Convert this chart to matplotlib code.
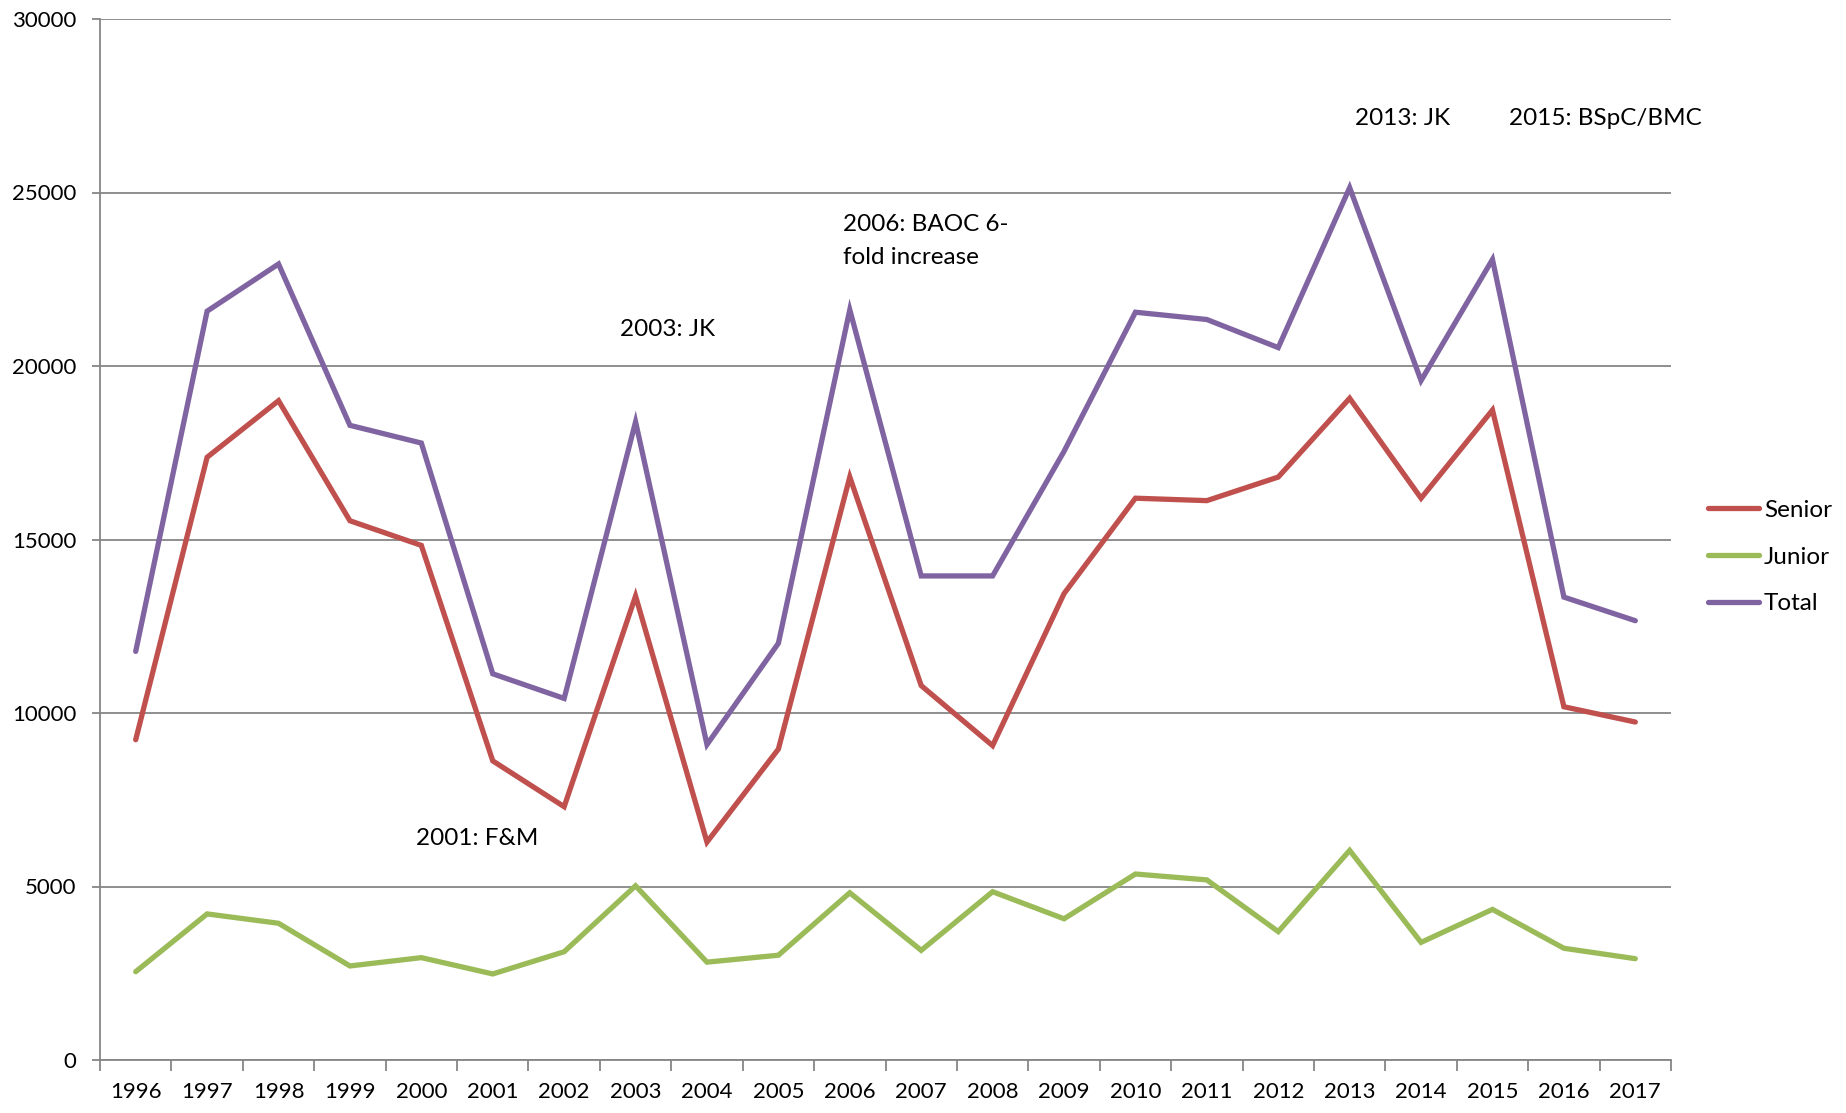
import matplotlib
matplotlib.use("Agg")
import matplotlib.pyplot as plt
import numpy as np

plt.rcParams["font.family"] = ["Lato", "DejaVu Sans"]

years = [str(y) for y in range(1996, 2018)]
senior = [9230, 17370, 19000, 15540, 14830, 8620, 7300, 13370, 6280, 8960, 16800,
          10790, 9060, 13440, 16190, 16120, 16800, 19070, 16190, 18730, 10180, 9740]
junior = [2545, 4210, 3940, 2710, 2950, 2480, 3120, 5020, 2820, 3020, 4820,
          3160, 4850, 4070, 5360, 5190, 3700, 6040, 3390, 4340, 3220, 2920]
total = [11775, 21580, 22940, 18290, 17780, 11130, 10420, 18390, 9090, 12010, 21620,
         13950, 13950, 17540, 21550, 21340, 20530, 25140, 19580, 23070, 13340, 12660]
series_names = ["Senior", "Junior", "Total"]
colors = ["#C0504D", "#9BBB59", "#8064A2"]
yticks = [0, 5000, 10000, 15000, 20000, 25000, 30000]

# annotations: (label, x index, y value)
notes = [("2001: F&M", 3.93, 6200), ("2003: JK", 6.78, 20860),
         ("2006: BAOC 6-", 9.91, 23900), ("fold increase", 9.91, 22950),
         ("2013: JK", 17.08, 26950), ("2015: BSpC/BMC", 19.23, 26950)]

GRID = "#868686"
FS = 16
FS_TXT = 17.5

fig = plt.figure(figsize=(18.46, 11.13), dpi=100)
ax = fig.add_axes([100 / 1846, 1 - 1060 / 1113, 1571 / 1846, 1041 / 1113])

x = np.arange(len(years))
for name, vals, c in zip(series_names, [senior, junior, total], colors):
    ax.plot(x, vals, color=c, lw=3.8, label=name, solid_joinstyle="miter",
            solid_capstyle="round", zorder=3)

ax.set_xlim(-0.5, len(years) - 0.5)
ax.set_ylim(0, 30000)
ax.set_yticks(yticks)
ax.set_yticklabels([str(v) for v in yticks])
ax.yaxis.grid(True, color=GRID, lw=1.3)
ax.set_axisbelow(True)

ax.set_xticks(np.arange(-0.5, len(years)), minor=False)
ax.set_xticklabels([])
ax.set_xticks(x, minor=True)
ax.set_xticklabels(years, minor=True)
ax.tick_params(axis="x", which="major", length=8, width=1.3, color=GRID, direction="out")
ax.tick_params(axis="x", which="minor", length=0, pad=16, labelsize=FS)
ax.tick_params(axis="y", length=6, width=1.3, color=GRID, pad=11, labelsize=FS)

for s in ["top", "right"]:
    ax.spines[s].set_visible(False)
for s in ["left", "bottom"]:
    ax.spines[s].set_color(GRID)
    ax.spines[s].set_linewidth(1.3)

for label, nx, ny in notes:
    ax.text(nx, ny, label, fontsize=FS_TXT, va="baseline", ha="left", color="black")

fig.legend(loc="center left", bbox_to_anchor=(1708 / 1846, 1 - 557 / 1113),
           frameon=False, fontsize=FS_TXT, handlelength=2.1, handletextpad=0.2,
           labelspacing=1.05, borderpad=0, borderaxespad=0)

fig.savefig("out.png", dpi=100)
